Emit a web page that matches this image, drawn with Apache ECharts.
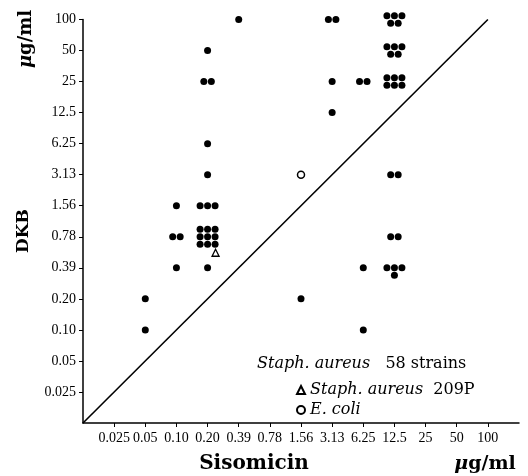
<!DOCTYPE html>
<html>
<head>
<meta charset="utf-8">
<script src="https://cdn.jsdelivr.net/npm/echarts@6/dist/echarts.min.js"></script>
<style>
html,body{margin:0;padding:0;background:#fff;}
#chart{width:528px;height:476px;}
</style>
</head>
<body>
<div id="chart"></div>
<script>
// Tick labels (two-fold dilution series), evenly spaced
const xTicks = ['0.025','0.05','0.10','0.20','0.39','0.78','1.56','3.13','6.25','12.5','25','50','100'];
const yTicks = ['0.025','0.05','0.10','0.20','0.39','0.78','1.56','3.13','6.25','12.5','25','50','100'];

// Staph. aureus 58 strains: Sisomicin MIC, DKB MIC, number of strains
const strainX = ['0.05','0.05','0.10','0.10','0.10','0.20','0.20','0.20','0.20','0.20','0.20','0.20','0.39','1.56','3.13','3.13','3.13','6.25','6.25','6.25','12.5','12.5','12.5','12.5','12.5','12.5'];
const strainY = ['0.20','0.10','1.56','0.78','0.39','50','25','6.25','3.13','1.56','0.78','0.39','100','0.20','100','25','12.5','25','0.39','0.10','100','50','25','3.13','0.78','0.39'];
const strainN = [1,1,1,2,1,1,2,1,1,3,9,1,1,1,2,1,1,2,1,1,5,5,6,2,2,4];

// Staph. aureus 209P
const s209X = ['0.20'];
const s209Y = ['0.78'];
// E. coli
const ecoliX = ['1.56'];
const ecoliY = ['3.13'];

const S = 7.5;
function cluster(n){
  switch(n){
    case 1: return [[0,0]];
    case 2: return [[-S/2,0],[S/2,0]];
    case 3: return [[-S,0],[0,0],[S,0]];
    case 4: return [[-S,0],[0,0],[S,0],[0,S]];
    case 5: return [[-S,-S/2],[0,-S/2],[S,-S/2],[-S/2,S/2],[S/2,S/2]];
    case 6: return [[-S,-S/2],[0,-S/2],[S,-S/2],[-S,S/2],[0,S/2],[S,S/2]];
    case 9: { const r=[]; for(const dy of [-S,0,S]) for(const dx of [-S,0,S]) r.push([dx,dy]); return r; }
    default: { const r=[]; for(let k=0;k<n;k++) r.push([(k-(n-1)/2)*S,0]); return r; }
  }
}
const strainData = [];
strainX.forEach((x,i)=>{
  const xi = xTicks.indexOf(x), yi = yTicks.indexOf(strainY[i]);
  cluster(strainN[i]).forEach(o=>strainData.push({value:[xi,yi], symbolOffset:o}));
});
const s209Data = s209X.map((x,i)=>({value:[xTicks.indexOf(x), yTicks.indexOf(s209Y[i])], symbolOffset:[8,16]}));
const ecoliData = ecoliX.map((x,i)=>[xTicks.indexOf(x), yTicks.indexOf(ecoliY[i])]);
const lineData = [[-1,-1],[yTicks.length-1,yTicks.length-1]];

const tickIdx = xTicks.map((_,i)=>i);
const serif = 'DejaVu Serif';
const chart = echarts.init(document.getElementById('chart'));
chart.setOption({
  animation:false,
  backgroundColor:'#fff',
  grid:{left:83,right:9,top:19.5,bottom:53},
  xAxis:{
    type:'value',min:-1,max:xTicks.length,interval:1,
    splitLine:{show:false},
    axisLine:{onZero:false,lineStyle:{color:'#000',width:1.5}},
    axisTick:{customValues:tickIdx,length:4,lineStyle:{color:'#000',width:1}},
    axisLabel:{customValues:tickIdx,margin:8,color:'#000',fontFamily:'Liberation Serif',fontSize:14,
      formatter:v=>xTicks[Math.round(v)]||''}
  },
  yAxis:{
    type:'value',min:-1,max:yTicks.length-1,interval:1,
    splitLine:{show:false},
    axisLine:{onZero:false,lineStyle:{color:'#000',width:1.5}},
    axisTick:{customValues:tickIdx,length:4,lineStyle:{color:'#000',width:1}},
    axisLabel:{customValues:tickIdx,margin:7,color:'#000',fontFamily:'Liberation Serif',fontSize:14,
      formatter:v=>yTicks[Math.round(v)]||''}
  },
  legend:{
    data:['Staph. aureus 209P','E. coli'],
    orient:'vertical',left:291,top:377,
    itemWidth:8,itemHeight:8,itemGap:4,
    selectedMode:false,
    textStyle:{color:'#000',fontFamily:serif,fontSize:16,
      rich:{i:{fontStyle:'italic',fontFamily:serif,fontSize:16,color:'#000'},
            n:{fontFamily:serif,fontSize:16,color:'#000'}}},
    formatter:name=>name==='E. coli'?'{i|E. coli}':'{i|Staph. aureus}{n|  209P}'
  },
  series:[
    {type:'line',data:lineData,symbol:'none',silent:true,
     lineStyle:{color:'#000',width:1.6},z:1},
    {name:'Staph. aureus 58 strains',type:'scatter',data:strainData,symbol:'circle',symbolSize:7,
     itemStyle:{color:'#000',opacity:1},z:3},
    {name:'Staph. aureus 209P',type:'scatter',data:s209Data,symbol:'triangle',symbolSize:7,
     itemStyle:{color:'#fff',borderColor:'#000',borderWidth:1.3,opacity:1},z:4},
    {name:'E. coli',type:'scatter',data:ecoliData,symbol:'circle',symbolSize:7,
     itemStyle:{color:'#fff',borderColor:'#000',borderWidth:1.5,opacity:1},z:4}
  ],
  graphic:[
    {type:'text',x:26,y:39,rotation:Math.PI/2,
     style:{text:'{i|μ}{b|g/ml}',textAlign:'center',textVerticalAlign:'middle',
       rich:{i:{fontFamily:serif,fontSize:18,fontWeight:'bold',fontStyle:'italic',fill:'#000'},
             b:{fontFamily:serif,fontSize:18,fontWeight:'bold',fill:'#000'}}}},
    {type:'text',x:24,y:231,rotation:Math.PI/2,
     style:{text:'DKB',textAlign:'center',textVerticalAlign:'middle',
       font:'bold 17px "DejaVu Serif"',fill:'#000'}},
    {type:'text',x:254,y:464,
     style:{text:'Sisomicin',textAlign:'center',textVerticalAlign:'middle',
       font:'bold 20px "DejaVu Serif"',fill:'#000'}},
    {type:'text',x:485,y:464,
     style:{text:'{i|μ}{b|g/ml}',textAlign:'center',textVerticalAlign:'middle',
       rich:{i:{fontFamily:serif,fontSize:19,fontWeight:'bold',fontStyle:'italic',fill:'#000'},
             b:{fontFamily:serif,fontSize:19,fontWeight:'bold',fill:'#000'}}}},
    {type:'text',x:257,y:364,
     style:{text:'{i|Staph. aureus}{n|   58 strains}',textAlign:'left',textVerticalAlign:'middle',
       rich:{i:{fontFamily:serif,fontSize:16,fontStyle:'italic',fill:'#000'},
             n:{fontFamily:serif,fontSize:16,fill:'#000'}}}}
  ]
});
</script>
</body>
</html>
